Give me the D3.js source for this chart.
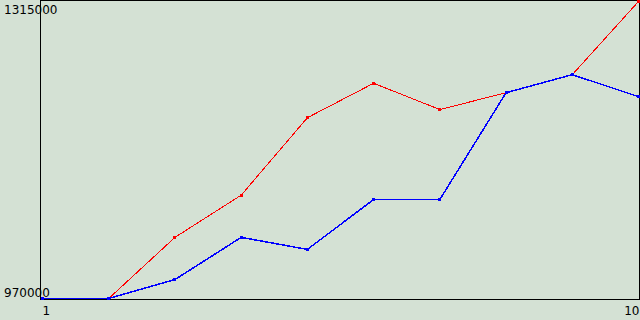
<!DOCTYPE html>
<html>
<head>
<meta charset="utf-8">
<script src="https://cdn.jsdelivr.net/npm/d3@7"></script>
<style>
  html, body { margin: 0; padding: 0; background: #d4e1d4; }
  svg { display: block; }
</style>
</head>
<body>
<div id="chart"></div>
<script>
const xValues = [1, 2, 3, 4, 5, 6, 7, 8, 9, 10];
const redValues = [970000, 970000, 1041000, 1090000, 1180000, 1220000, 1189500, 1209000, 1230000, 1315000];
const blueValues = [970000, 970000, 992000, 1041000, 1027000, 1085000, 1085000, 1209000, 1230000, 1204500];
const yTickLabels = [1315000, 970000];
const xTickLabels = [1, 10];

const width = 640, height = 320;

const svg = d3.select('#chart').append('svg')
  .attr('width', width)
  .attr('height', height)
  .style('font', '12px "DejaVu Sans", sans-serif');

svg.append('rect')
  .attr('width', width)
  .attr('height', height)
  .attr('fill', '#d4e1d4');

const x = d3.scaleLinear([1, 10], [42.5, 638.5]),
      y = d3.scaleLinear([970000, 1315000], [298.5, 1.5]);

// frame
const frame = svg.append('g')
  .attr('stroke', '#000')
  .attr('stroke-width', 1)
  .attr('shape-rendering', 'crispEdges');
frame.append('line').attr('x1', 40.5).attr('x2', 40.5).attr('y1', 0).attr('y2', 300);
frame.append('line').attr('x1', 40).attr('x2', 640).attr('y1', 0.5).attr('y2', 0.5);
frame.append('line').attr('x1', 639.5).attr('x2', 639.5).attr('y1', 0).attr('y2', 300);
frame.append('line').attr('x1', 40).attr('x2', 640).attr('y1', 299.5).attr('y2', 299.5);

// axis labels
svg.selectAll('text.ylab')
  .data(yTickLabels)
  .join('text')
    .attr('class', 'ylab')
    .attr('x', 4)
    .attr('y', (d, i) => i === 0 ? 14 : 297)
    .attr('fill', '#000')
    .text(d => d);

svg.selectAll('text.xlab')
  .data(xTickLabels)
  .join('text')
    .attr('class', 'xlab')
    .attr('x', d => d === 1 ? x(d) : x(d) + 1)
    .attr('y', 315)
    .attr('text-anchor', (d, i) => i === 0 ? 'start' : 'end')
    .attr('fill', '#000')
    .text(d => d);

const series = [
  { values: redValues, color: '#ff0000', w: 1 },
  { values: blueValues, color: '#0000ff', w: 1.5 }
];

const line = d3.line()
  .x((d, i) => x(xValues[i]))
  .y(d => y(d));

series.forEach(s => {
  const g = svg.append('g');
  g.append('path')
    .datum(s.values)
    .attr('d', line)
    .attr('fill', 'none')
    .attr('stroke', s.color)
    .attr('stroke-width', s.w)
    .attr('shape-rendering', 'crispEdges');

  g.selectAll('rect')
    .data(s.values)
    .join('rect')
      .attr('x', (d, i) => Math.round(x(xValues[i]) - 1.5))
      .attr('y', d => Math.round(y(d) - 1.5))
      .attr('width', 3)
      .attr('height', 3)
      .attr('fill', s.color)
      .attr('shape-rendering', 'crispEdges');
});
</script>
</body>
</html>
